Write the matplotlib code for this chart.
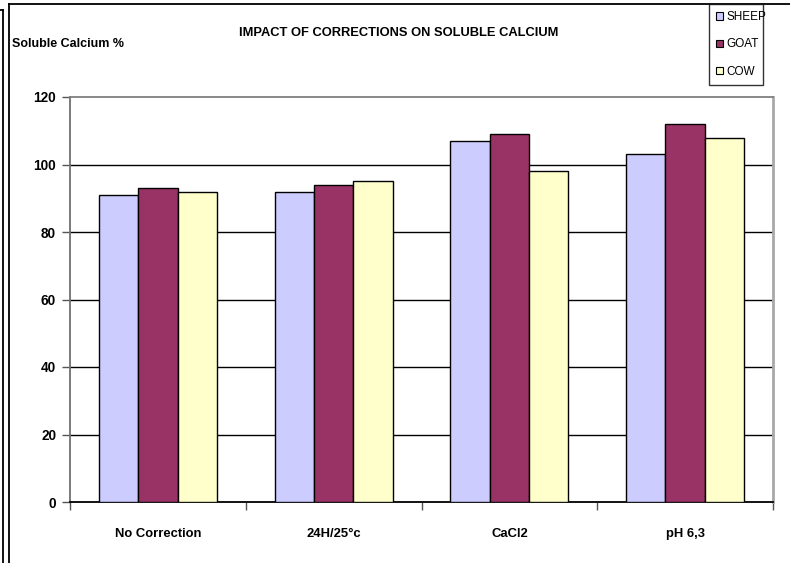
import matplotlib
matplotlib.use("Agg")
import matplotlib.pyplot as plt
import numpy as np
from matplotlib.lines import Line2D
from matplotlib.patches import Patch

categories = ["No Correction", "24H/25°c", "CaCl2", "pH 6,3"]
series_names = ["SHEEP", "GOAT", "COW"]
sheep = [91, 92, 107, 103]
goat = [93, 94, 109, 112]
cow = [92, 95, 98, 108]
colors = ["#CCCCFF", "#993366", "#FFFFCC"]
yticks = [0, 20, 40, 60, 80, 100, 120]

plt.rcParams["font.family"] = ["Liberation Sans", "DejaVu Sans"]

fig = plt.figure(figsize=(7.9, 5.63), dpi=100)
W, H = 790, 563
ax = fig.add_axes([70 / W, 1 - 502 / H, (773 - 70) / W, (502 - 97) / H])

x = np.arange(len(categories))
bw = 0.224
for k, (vals, col) in enumerate(zip([sheep, goat, cow], colors)):
    ax.bar(x + (k - 1) * bw, vals, bw, color=col, edgecolor="black",
           linewidth=1.0, zorder=3, label=series_names[k])

ax.set_xlim(-0.5, len(categories) - 0.5)
ax.set_ylim(0, 120)
ax.set_yticks(yticks)
ax.set_yticklabels([str(v) for v in yticks], fontsize=9.8, fontweight="bold")
for v in yticks[1:-1]:
    ax.axhline(v, color="black", linewidth=1.0, zorder=1)

ax.set_xticks(x)
ax.set_xticklabels(categories, fontsize=9.4, fontweight="bold")
ax.tick_params(axis="x", length=0, pad=19)
ax.set_xticks(np.arange(-0.5, len(categories), 1.0), minor=True)
ax.tick_params(axis="x", which="minor", length=6, width=1, color="#555555", direction="out")
ax.tick_params(axis="y", length=6, width=1, color="#555555", direction="out", pad=4)

ax.spines["top"].set_color("#808080")
ax.spines["top"].set_linewidth(1.3)
ax.spines["right"].set_color("#A8A8A8")
ax.spines["right"].set_linewidth(2)
ax.spines["left"].set_color("#707070")
ax.spines["left"].set_linewidth(1.3)
ax.spines["bottom"].set_color("black")
ax.spines["bottom"].set_linewidth(1.3)

fig.text(399 / W, 1 - 33 / H, "IMPACT OF CORRECTIONS ON SOLUBLE CALCIUM",
         ha="center", va="center", fontsize=9.3, fontweight="bold")
fig.text(12 / W, 1 - 44 / H, "Soluble Calcium %", ha="left", va="center",
         fontsize=9.0, fontweight="bold")

# frame lines
fig.add_artist(Line2D([3 / W, 3 / W], [0, 1 - 10 / H], color="black", lw=1.3))
fig.add_artist(Line2D([0, 3 / W], [1 - 10 / H, 1 - 10 / H], color="black", lw=1.3))
fig.add_artist(Line2D([8.5 / W, 8.5 / W], [0, 1 - 4 / H], color="black", lw=1.3))
fig.add_artist(Line2D([8.5 / W, 1], [1 - 4 / H, 1 - 4 / H], color="black", lw=1.3))

handles = [Patch(facecolor=c, edgecolor="black", linewidth=0.8) for c in colors]
leg = fig.legend(handles, series_names, loc="upper left",
                 bbox_to_anchor=(709 / W, 1 - 88 / H, 54 / W, 84 / H),
                 mode="expand", fontsize=8.5, frameon=True, fancybox=False,
                 handlelength=0.6, handleheight=0.6, handletextpad=0.25,
                 labelspacing=1.3, borderpad=0.6, borderaxespad=0)
leg.get_frame().set_edgecolor("black")
leg.get_frame().set_linewidth(1.0)

fig.savefig("out.png", dpi=100)
